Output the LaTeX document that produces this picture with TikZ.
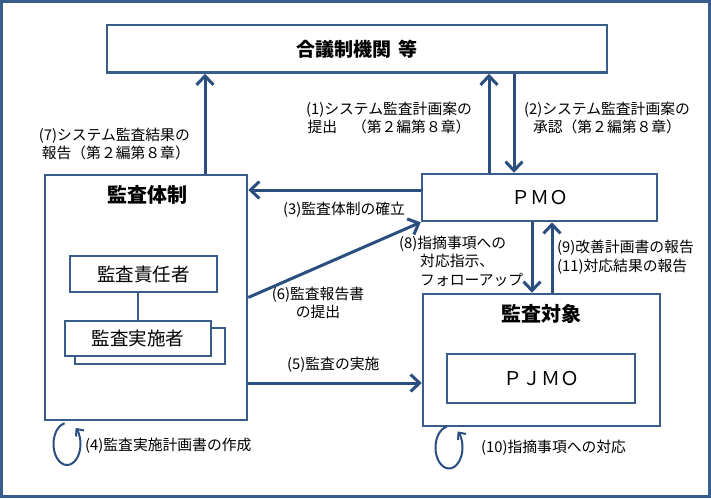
\documentclass[tikz,border=0pt]{standalone}
\usepackage{fontspec}
\setmainfont{Noto Sans CJK JP}
\usepackage{tikz}
\usetikzlibrary{arrows.meta,positioning}
\definecolor{boxblue}{HTML}{385D8A}
\definecolor{arrblue}{HTML}{2A4E80}

\begin{document}
\begin{tikzpicture}[x=1pt, y=-1pt,
      box/.style={draw=boxblue, line width=2.5pt, fill=white, inner sep=0pt},
      arr/.style={draw=arrblue, line width=3pt, -{Straight Barb[length=9pt,width=17pt]}},
      rot/.style={draw=arrblue, line width=2pt, -{Straight Barb[length=5.5pt,width=10pt]}},
      lbl/.style={inner sep=0pt, font=\fontsize{14.8}{18.5}\selectfont},
      title/.style={inner sep=0pt, font=\fontsize{20}{24}\selectfont\bfseries}]
    \useasboundingbox (0,0) rectangle (711,498);
    \draw[boxblue, line width=3pt] (1.5,1.5) rectangle (709.5,496.5);

    \node[box, minimum width=500, minimum height=47.5] (kaigi) at (357,48.75)
      {\fontsize{19}{23}\selectfont\bfseries 合議制機関\hspace{0.4em}等};
    \node[box, minimum width=202, minimum height=245] (taisei) at (146,297.5) {};
    \node[title] (taiseit) at (147,195) {監査体制};
    \node[box, minimum width=147, minimum height=36] (sekinin) at (143.5,274)
      {\fontsize{18.5}{22}\selectfont 監査責任者};
    \node[box, minimum width=150, minimum height=36] (jisshib) at (150,346) {};
    \node[box, minimum width=146, minimum height=35] (jisshi) at (138,338.5)
      {\fontsize{18.5}{22}\selectfont 監査実施者};
    \draw[boxblue, line width=2.5pt] (sekinin.south -| jisshi.north) -- (jisshi.north);
    \node[box, minimum width=235, minimum height=47] (pmo) at (539.5,197.5)
      {\fontsize{19}{23}\selectfont ＰＭＯ};
    \node[box, minimum width=237, minimum height=132] (taisho) at (541.5,360) {};
    \node[title] (taishot) at (541,314) {監査対象};
    \node[box, minimum width=188, minimum height=49] (pjmo) at (541,378.5)
      {\fontsize{19}{23}\selectfont ＰＪＭＯ};

    \coordinate (p7) at ([xshift=59pt]taisei.north);
    \coordinate (p1) at ([xshift=-50.5pt]pmo.north);
    \coordinate (p2) at ([xshift=-25.5pt]pmo.north);
    \coordinate (p3) at ([yshift=7.5pt]pmo.west);
    \coordinate (p5) at ([yshift=-85.5pt]taisei.east);
    \coordinate (p8) at ([xshift=-9.5pt]taisho.north);
    \coordinate (p9) at ([xshift=10.5pt]taisho.north);
    \draw[arr] (p7) -- (p7 |- kaigi.south);
    \draw[arr] (p1) -- (p1 |- kaigi.south);
    \draw[arr] (p2 |- kaigi.south) -- (p2);
    \draw[arr] (p3) -- (p3 -| taisei.east);
    \draw[arr] (taisei.east) -- (pmo.south west);
    \draw[arr] (p8 |- pmo.south) -- (p8);
    \draw[arr] (p9) -- (p9 |- pmo.south);
    \draw[arr] (p5) -- (p5 -| taisho.west);

    \coordinate (r4) at (67,444);
    \coordinate (r10) at (449,447.5);
    \draw[rot] ([shift={(260:13.5 and 21)}]r4) arc[start angle=260, end angle=-50, x radius=13.5, y radius=21];
    \draw[rot] ([shift={(260:13.5 and 21)}]r10) arc[start angle=260, end angle=-50, x radius=13.5, y radius=21];

    \node[lbl, anchor=east, align=right] (l7) at (190,144) {(7)システム監査結果の\\報告（第２編第８章）};
    \node[lbl, align=center] (l1) at (389,118) {(1)システム監査計画案の\\提出　（第２編第８章）};
    \node[lbl, align=center] (l2) at (607,118) {(2)システム監査計画案の\\承認（第２編第８章）};
    \node[lbl, anchor=west] (l3) at (283,210) {(3)監査体制の確立};
    \node[lbl, align=center] (l6) at (318,303) {(6)監査報告書\\の提出};
    \node[lbl, anchor=west, align=left] (l8) at (399,261)
      {(8)指摘事項への\\\hspace*{21pt}対応指示、\\\hspace*{21pt}フォローアップ};
    \node[lbl, anchor=west, align=left] (l9) at (557,257) {(9)改善計画書の報告\\(11)対応結果の報告};
    \node[lbl, anchor=west] (l5) at (287,365) {(5)監査の実施};
    \node[lbl, anchor=west] (l4) at (85,446) {(4)監査実施計画書の作成};
    \node[lbl, anchor=west] (l10) at (481,448) {(10)指摘事項への対応};
\end{tikzpicture}
\end{document}
